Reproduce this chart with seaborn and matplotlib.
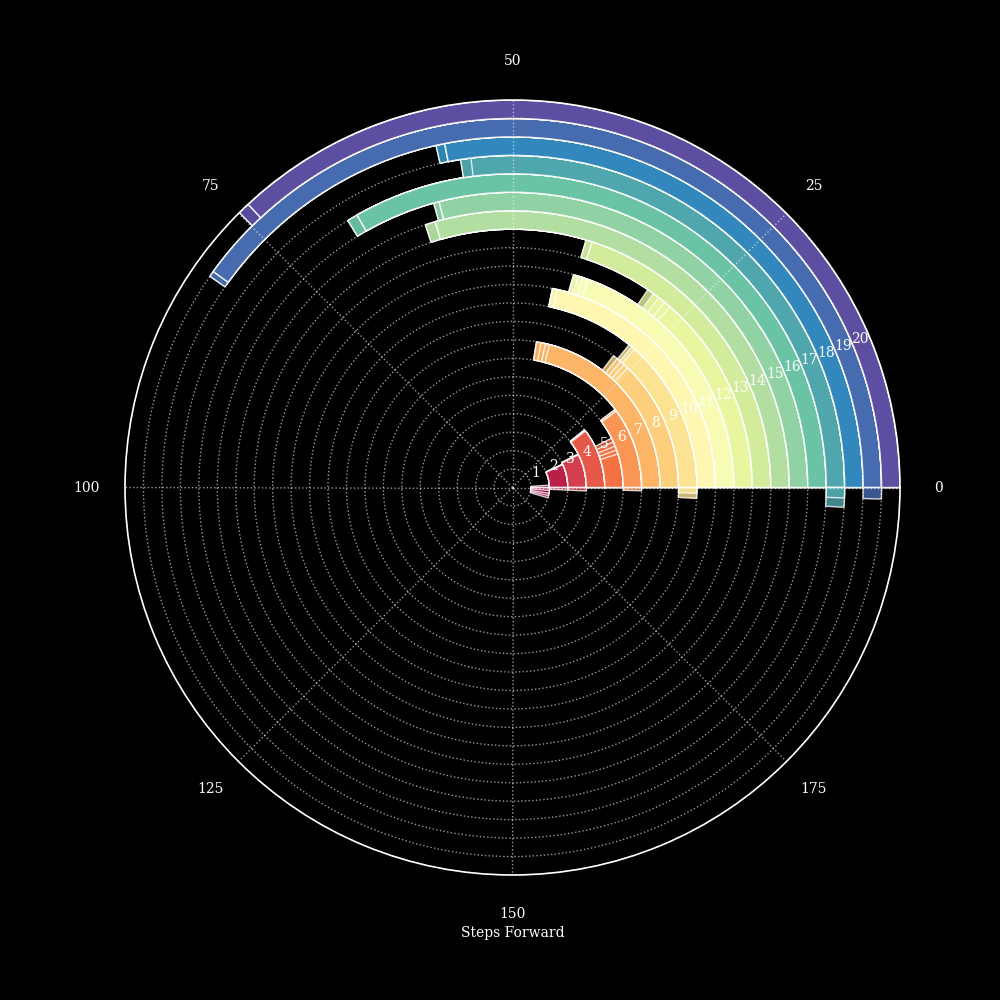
import numpy as np
import matplotlib
matplotlib.use("Agg")
import matplotlib.pyplot as plt
import seaborn as sns

# ---------------- data (steps forward per trial, one list per level) ----------------
levels = list(range(1, 21))
ring_01 = [2.0, -2.5, -5.0, -7.0, -9.0]
ring_02 = [13.9, 13.9, 13.6, 13.6, -1.5]
ring_03 = [15.0, 15.0, 14.7, 14.7, -1.5]
ring_04 = [21.5, 21.5, 21.2, 21.2, 21.0]
ring_05 = [9.8, 11.0, 12.2, 13.5, 14.7]
ring_06 = [20.7, 20.7, 20.2, 20.2, -0.8]
ring_07 = [41.9, 42.8, 43.8, 44.8, 44.8]
ring_08 = [25.6, 26.5, 27.4, 28.3, 29.2]
ring_09 = [27.0, 27.6, 28.2, -1.0, -1.9]
ring_10 = [42.9, 43.7, 43.7, 43.7, 42.9]
ring_11 = [38.9, 39.7, 40.4, 41.1, 41.1]
ring_12 = [27.2, 28.1, 29.1, 30.0, 30.9]
ring_13 = [40.0, 40.8, 40.8, 40.0, 40.0]
ring_14 = [59.0, 60.2, 60.2, 59.0, 59.0]
ring_15 = [58.0, 58.6, 58.6, 58.0, 58.0]
ring_16 = [66.5, 67.6, 67.6, 66.5, 66.5]
ring_17 = [54.0, 55.0, 55.0, -1.0, -1.9]
ring_18 = [56.2, 57.0, 57.0, 56.2, 56.2]
ring_19 = [80.1, 80.6, 80.6, 80.1, -1.0]
ring_20 = [73.9, 74.9, 74.9, 73.9, 73.9]
rings = [ring_01, ring_02, ring_03, ring_04, ring_05, ring_06, ring_07, ring_08,
         ring_09, ring_10, ring_11, ring_12, ring_13, ring_14, ring_15, ring_16,
         ring_17, ring_18, ring_19, ring_20]
ring_labels = [str(i) for i in levels]
angle_ticks = [0, 25, 50, 75, 100, 125, 150, 175]
angle_tick_labels = ["0", "25", "50", "75", "100", "125", "150", "175"]
steps_per_turn = 200
x_label = "Steps Forward"

# ---------------- style ----------------
sns.set_theme(style="dark")
plt.rcParams["font.family"] = ["DejaVu Serif"]

cmap = sns.color_palette("Spectral", as_cmap=True)
colors = [cmap(k / (len(levels) - 1)) for k in range(len(levels))]

fig = plt.figure(figsize=(10, 10), dpi=100, facecolor="black")
ax = fig.add_axes([0.125, 0.125, 0.775, 0.775], polar=True)
ax.set_facecolor("black")

def to_rad(v):
    return np.asarray(v, dtype=float) * 2 * np.pi / steps_per_turn

for lvl, vals, col in zip(levels, rings, colors):
    # longest bars first so every bar end stays visible as a white line
    for v in sorted(vals, key=lambda t: -abs(t)):
        th = float(to_rad(v))
        if th == 0:
            continue
        ax.bar(min(0.0, th), 1.0, width=abs(th), bottom=lvl, align="edge",
               color=col, alpha=0.8, edgecolor="white", linewidth=1.0)

for lvl, lab in zip(levels, ring_labels):
    ax.annotate(lab, xy=(np.pi / 8, lvl + 0.5), xytext=(-1.5, 3),
                textcoords="offset points", ha="center", va="center",
                color="white", fontsize=10)

ax.set_ylim(0, 21)
ax.set_yticks(np.arange(0, 22))
ax.set_yticklabels([])
ax.set_xticks(to_rad(angle_ticks))
ax.set_xticklabels(angle_tick_labels, color="white", fontsize=10)
ax.tick_params(axis="x", pad=15)
ax.set_axisbelow(False)
ax.grid(True, color="white", linestyle=":", linewidth=1.0, alpha=0.6)
ax.spines["polar"].set_color("white")
ax.spines["polar"].set_linewidth(1.2)
ax.set_xlabel(x_label, color="white", fontsize=10)

fig.savefig("out.png", dpi=100, facecolor="black")
